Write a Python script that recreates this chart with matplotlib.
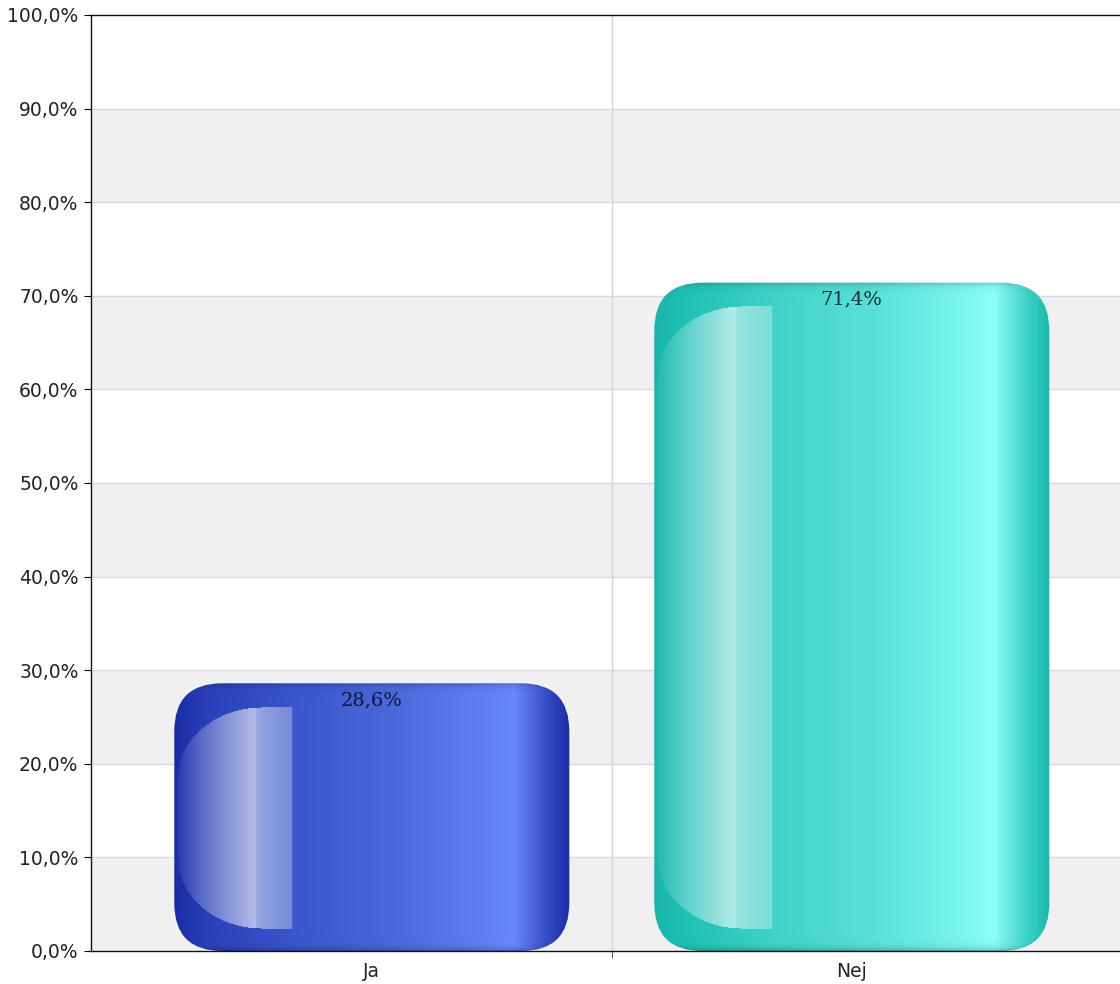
import numpy as np
import matplotlib
matplotlib.use("Agg")
import matplotlib.pyplot as plt
from matplotlib.colors import to_rgb
from matplotlib.patches import FancyBboxPatch

categories = ["Ja", "Nej"]
values = [28.6, 71.4]
yticks = [0, 10, 20, 30, 40, 50, 60, 70, 80, 90, 100]

# horizontal gradient stops (fraction across bar, colour)
bar_stops = [
    [(0.0, "#1a2ca6"), (0.08, "#2a40b8"), (0.30, "#3a56cc"), (0.55, "#4a68dc"),
     (0.80, "#6480f5"), (0.86, "#6a88fe"), (0.89, "#5873ea"), (0.95, "#3048c0"),
     (1.0, "#1a2ca6")],
    [(0.0, "#18b5aa"), (0.08, "#20c0b5"), (0.30, "#40d2c8"), (0.55, "#58e0d8"),
     (0.80, "#7ef8f0"), (0.86, "#8cfff6"), (0.89, "#70eee4"), (0.95, "#38cfc4"),
     (1.0, "#18b8ad")],
]

bar_width = 0.823
corner_px = 48

fig = plt.figure(figsize=(11.2, 9.84), dpi=100)
ax = fig.add_axes([91 / 1120, 33 / 984, 1029 / 1120, 936 / 984])
ax.set_xlim(-0.585, -0.585 + 1029 / 480)
ax.set_ylim(0, 100)

# alternating bands
for i, lo in enumerate(yticks[:-1]):
    if i % 2 == 0:
        ax.axhspan(lo, lo + 10, color="#f0f0f0", zorder=0, lw=0)
for t in yticks[1:-1]:
    ax.axhline(t, color="#d9d9d9", lw=1, zorder=0.5)
ax.axvline(0.5, color="#d4d4d4", lw=1, zorder=0.5)

ax.set_yticks(yticks)
ax.set_yticklabels([f"{t:.1f}%".replace(".", ",") for t in yticks])
ax.set_xticks(range(len(categories)))
ax.set_xticklabels(categories)
ax.set_xticks([0.5], minor=True)
ax.tick_params(axis="x", which="major", length=0, labelsize=13.5, pad=8, labelcolor="#222222")
ax.tick_params(axis="x", which="minor", length=5, color="#333333")
ax.tick_params(axis="y", length=5, labelsize=13.5, labelcolor="#222222", pad=4)
ax.spines["right"].set_visible(False)
for s in ["left", "top", "bottom"]:
    ax.spines[s].set_color("#111111")
    ax.spines[s].set_linewidth(1)

# pixel scale
p0 = ax.transData.transform((0, 0))
p1 = ax.transData.transform((1, 1))
sx = p1[0] - p0[0]
sy = p1[1] - p0[1]


def gradient_row(stops, n):
    u = np.linspace(0, 1, n)
    pos = [s[0] for s in stops]
    cols = np.array([to_rgb(s[1]) for s in stops])
    return np.stack([np.interp(u, pos, cols[:, k]) for k in range(3)], axis=1)


for i, (cat, v) in enumerate(zip(categories, values)):
    x0 = i - bar_width / 2
    wpx = int(round(bar_width * sx))
    hpx = int(round(v * sy))
    row = gradient_row(bar_stops[i], wpx)
    img = np.tile(row[None, :, :], (hpx, 1, 1))

    # darker rim at top and bottom
    yy = np.arange(hpx)[:, None]
    d = np.minimum(yy, hpx - 1 - yy)
    shade = 1 - 0.22 * np.exp(-d / 3.0)
    img = img * shade[:, :, None]

    # glossy highlight on the left
    xx = np.arange(wpx)[None, :]
    hx0, hx1 = 3, 117
    hy0, hy1 = 24, hpx - 23
    rx, ry = 84, 72
    alpha = np.interp(xx, [hx0, 80, 81, 82, hx1], [0.05, 0.62, 0.6, 0.5, 0.3])
    inside = (xx >= hx0) & (xx <= hx1) & (yy >= hy0) & (yy <= hy1)
    cx = hx0 + rx
    for cy, top in ((hy0 + ry, True), (hy1 - ry, False)):
        zone = (xx < cx) & ((yy < cy) if top else (yy > cy))
        outside = ((xx - cx) / rx) ** 2 + ((yy - cy) / ry) ** 2 > 1
        inside &= ~(zone & outside)
    a = np.where(inside, alpha, 0)[:, :, None]
    img = img * (1 - a) + a

    rx_d = corner_px / sx
    box = FancyBboxPatch((x0, 0), bar_width, v,
                         boxstyle=f"round,pad=0,rounding_size={rx_d}",
                         mutation_aspect=(corner_px / sy) / rx_d,
                         fc="none", ec="none", zorder=2)
    ax.add_patch(box)
    im = ax.imshow(img, extent=(x0, x0 + bar_width, 0, v), origin="upper",
                   aspect="auto", zorder=2, interpolation="bilinear")
    im.set_clip_path(box)

    ax.text(i, v - 8 / sy, f"{v:.1f}%".replace(".", ","), ha="center", va="top",
            family="DejaVu Serif", fontsize=14, color="black", alpha=0.78, zorder=3)

ax.set_xlim(-0.585, -0.585 + 1029 / 480)
ax.set_ylim(0, 100)

fig.savefig("out.png", dpi=100)
